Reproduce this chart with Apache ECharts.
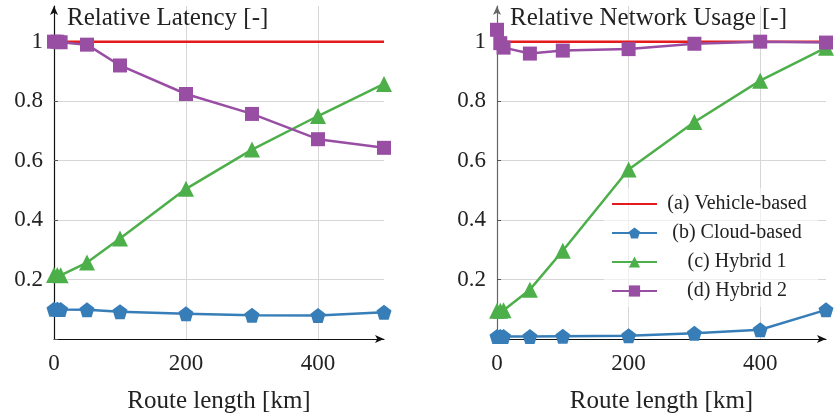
<!DOCTYPE html>
<html>
<head>
    <meta charset="utf-8">
    <title>Relative latency / network usage</title>
    <script src="https://cdn.jsdelivr.net/npm/echarts@6/dist/echarts.min.js"></script>
</head>
<body style="margin:0">
    <div id="main" style="width:837px;height:417px;"></div>
    <script type="text/javascript">
        // route lengths [km]
        var routeKm = [0, 5, 10, 50, 100, 200, 300, 400, 500];
        var seriesNames = ['(a) Vehicle-based', '(b) Cloud-based', '(c) Hybrid 1', '(d) Hybrid 2'];

        // relative latency
        var latVehicle = [1, 1, 1, 1, 1, 1, 1, 1, 1];
        var latCloud   = [0.100, 0.100, 0.099, 0.098, 0.092, 0.085, 0.080, 0.079, 0.090];
        var latHybrid1 = [0.215, 0.215, 0.214, 0.257, 0.338, 0.505, 0.637, 0.750, 0.858];
        var latHybrid2 = [1.000, 1.000, 0.998, 0.990, 0.920, 0.824, 0.757, 0.672, 0.643];

        // relative network usage
        var netVehicle = [1, 1, 1, 1, 1, 1, 1, 1, 1];
        var netCloud   = [0.008, 0.008, 0.008, 0.008, 0.009, 0.011, 0.019, 0.031, 0.098];
        var netHybrid1 = [0.095, 0.095, 0.097, 0.166, 0.297, 0.570, 0.730, 0.869, 0.980];
        var netHybrid2 = [1.040, 0.995, 0.980, 0.960, 0.970, 0.975, 0.993, 1.000, 0.997];

        var yTicks = [0.2, 0.4, 0.6, 0.8, 1];
        var xTicks = [0, 200, 400];

        var colors = ['#e41a1c', '#377eb8', '#4daf4a', '#984ea3'];
        var symbols = ['none', 'path://M50,0 L97.6,34.5 L79.4,90.5 L20.6,90.5 L2.4,34.5 Z', 'triangle', 'rect'];
        var symbolSizes = [0, 15, 16, 14];
        var font = 'Liberation Serif';

        function pairs(ys) {
            return routeKm.map(function (x, i) { return [x, ys[i]]; });
        }

        function xAxisFor(idx) {
            return {
                type: 'value', gridIndex: idx, min: 0, max: 500, interval: 200,
                name: 'Route length [km]', nameLocation: 'middle', nameGap: 50,
                nameTextStyle: { fontFamily: font, fontSize: 25, color: '#222' },
                axisLine: { lineStyle: { color: '#111', width: 1.2 }, symbol: ['none', 'arrow'], symbolSize: [6, 9] },
                axisTick: { show: false },
                axisLabel: {
                    fontFamily: font, fontSize: 23, color: '#222', margin: 13,
                    formatter: function (v) { return xTicks.indexOf(v) >= 0 ? String(v) : ''; }
                },
                splitLine: {
                    show: true, showMinLine: false, showMaxLine: false,
                    lineStyle: { color: '#d6d6d6', width: 1 }
                }
            };
        }

        function yAxisFor(idx, name, lineColor) {
            return {
                type: 'value', gridIndex: idx, min: 0, max: 1.12, interval: 0.2,
                name: name, nameLocation: 'end', nameGap: -12,
                nameTextStyle: { fontFamily: font, fontSize: 25, color: '#222', align: 'left', verticalAlign: 'middle', padding: [0, 0, 0, 13] },
                axisLine: { show: true, lineStyle: { color: lineColor, width: 1.2 }, symbol: ['none', 'arrow'], symbolSize: [6, 9] },
                axisTick: { show: true, inside: true, length: 4, lineStyle: { color: '#555' } },
                axisLabel: {
                    fontFamily: font, fontSize: 23, color: '#222', margin: 11,
                    showMaxLabel: false,
                    formatter: function (v) {
                        var r = Math.round(v * 10) / 10;
                        return (yTicks.indexOf(r) >= 0 && Math.abs(r - v) < 1e-6) ? String(r) : '';
                    }
                },
                splitLine: { show: true, showMinLine: false, showMaxLine: false, lineStyle: { color: '#d6d6d6', width: 1 } }
            };
        }

        function makeSeries(idx, datasets) {
            return datasets.map(function (ys, k) {
                return {
                    name: seriesNames[k], type: 'line', xAxisIndex: idx, yAxisIndex: idx,
                    data: pairs(ys),
                    symbol: symbols[k], symbolSize: symbolSizes[k], showSymbol: k > 0,
                    lineStyle: { color: colors[k], width: 2.5 },
                    itemStyle: { color: colors[k] },
                    clip: false, animation: false, z: 2 + k
                };
            });
        }

        var legendItems = seriesNames.map(function (n, k) {
            return k === 0 ? { name: n, itemStyle: { opacity: 0 } } : { name: n };
        });

        var chart = echarts.init(document.getElementById('main'));
        var option = {
            backgroundColor: '#fff',
            animation: false,
            grid: [
                { left: 54, right: 453, top: 6, bottom: 78, outerBoundsMode: 'none' },
                { left: 497, right: 11, top: 6, bottom: 78, outerBoundsMode: 'none' }
            ],
            xAxis: [xAxisFor(0), xAxisFor(1)],
            yAxis: [
                yAxisFor(0, 'Relative Latency [-]', '#111'),
                yAxisFor(1, 'Relative Network Usage [-]', '#666')
            ],
            legend: {
                data: legendItems,
                orient: 'vertical',
                left: 604, top: 188,
                padding: [6, 6, 6, 7],
                backgroundColor: 'rgba(255,255,255,0.6)',
                itemWidth: 45, itemHeight: 14, itemGap: 9,
                formatter: function (n) { return '{t|' + n + '}'; },
                textStyle: {
                    fontFamily: font, fontSize: 20, color: '#222',
                    rich: { t: { width: 150, align: 'center', lineHeight: 20, fontFamily: font, fontSize: 20, color: '#222' } }
                }
            },
            series: makeSeries(0, [latVehicle, latCloud, latHybrid1, latHybrid2])
                .concat(makeSeries(1, [netVehicle, netCloud, netHybrid1, netHybrid2]))
        };
        chart.setOption(option);
    </script>
</body>
</html>
